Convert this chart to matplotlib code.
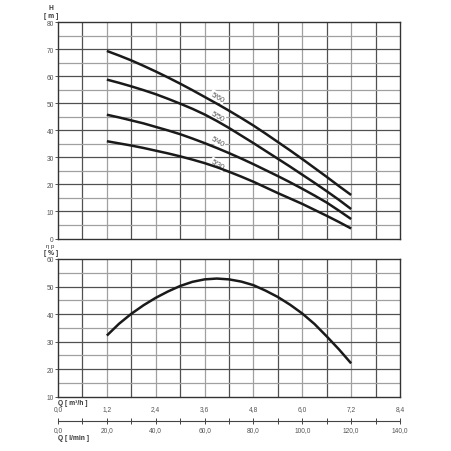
import numpy as np
import matplotlib
matplotlib.use('Agg')
import matplotlib.pyplot as plt
from matplotlib.ticker import FixedLocator, FuncFormatter

plt.rcParams['font.family'] = ['Liberation Sans', 'DejaVu Sans']

# flow points in m3/h
q = [1.2, 1.5, 1.8, 2.1, 2.4, 2.7, 3.0, 3.3, 3.6, 3.9, 4.2,
     4.5, 4.8, 5.1, 5.4, 5.7, 6.0, 6.3, 6.6, 6.9, 7.2]
h_560 = [69.4, 67.7, 65.9, 63.9, 61.8, 59.6, 57.3, 54.9, 52.4, 49.9, 47.3,
         44.6, 41.8, 38.8, 35.7, 32.6, 29.4, 26.1, 22.8, 19.4, 16.1]
h_550 = [58.8, 57.6, 56.3, 54.9, 53.4, 51.7, 49.9, 48.0, 45.9, 43.5, 40.9,
         38.1, 35.3, 32.4, 29.5, 26.6, 23.6, 20.6, 17.5, 14.3, 10.9]
h_540 = [45.8, 44.8, 43.7, 42.6, 41.3, 40.0, 38.6, 37.0, 35.3, 33.5, 31.6,
         29.6, 27.5, 25.3, 23.1, 20.8, 18.4, 15.9, 13.3, 10.3, 7.2]
h_530 = [36.0, 35.2, 34.4, 33.5, 32.5, 31.5, 30.4, 29.2, 27.9, 26.4, 24.7,
         22.9, 21.0, 18.9, 16.8, 14.8, 12.8, 10.6, 8.4, 6.1, 3.7]
curve_names = ['5/60', '5/50', '5/40', '5/30']
label_h = [52.4, 45.3, 36.0, 27.4]

eff = [32.2, 36.5, 40.1, 43.2, 45.9, 48.2, 50.2, 51.7, 52.6, 52.9, 52.6,
       51.8, 50.5, 48.5, 46.2, 43.4, 40.2, 36.4, 31.9, 27.2, 22.1]

fig = plt.figure(figsize=(4.52, 4.52), dpi=100)
L, W = 58 / 452, 342 / 452
ax1 = fig.add_axes([L, 1 - 239.5 / 452, W, 216.2 / 452])
ax2 = fig.add_axes([L, 1 - 397.7 / 452, W, 137.7 / 452])

dark = '#505050'
light = '#a0a0a0'
txt = '#555555'
fs = 4.8


def grid_style(ax, ymin, ymax):
    ax.set_xlim(0, 8.4)
    ax.set_ylim(ymin, ymax)
    for i in range(1, 14):
        ax.axvline(i * 0.6, color=dark if i % 2 else light, lw=0.9, zorder=1)
    for v in np.arange(ymin + 5, ymax, 5):
        ax.axhline(v, color=dark if v % 10 == 0 else light, lw=0.9, zorder=1)
    ax.set_xticks([])
    ax.set_yticks(np.arange(ymin, ymax + 1, 10))
    ax.tick_params(axis='y', length=2.5, width=0.7, color=txt, labelsize=fs,
                   labelcolor=txt, pad=0.5)
    for s in ax.spines.values():
        s.set_color('#333333')
        s.set_linewidth(1.0)


grid_style(ax1, 0, 80)
grid_style(ax2, 10, 60)

for h, name, lh in zip([h_560, h_550, h_540, h_530], curve_names, label_h):
    ax1.plot(q, h, color='#1a1a1a', lw=1.8, zorder=3, solid_capstyle='butt')
    ax1.text(3.92, lh, name, rotation=-30, fontsize=fs + 0.4, color=txt,
             ha='center', va='center', zorder=2,
             bbox=dict(facecolor='white', edgecolor='none', pad=0.8))

ax2.plot(q, eff, color='#1a1a1a', lw=1.8, zorder=3, solid_capstyle='butt')

fig.text(51 / 452, 1 - 9 / 452, 'H', fontsize=fs, fontweight='bold',
         color='#333333', ha='center', va='center')
fig.text(51 / 452, 1 - 16.5 / 452, '[ m ]', fontsize=fs, fontweight='bold',
         color='#333333', ha='center', va='center')
fig.text(50 / 452, 1 - 246.8 / 452, 'η p', fontsize=4.3,
         color='#333333', ha='center', va='center')
fig.text(51 / 452, 1 - 253.8 / 452, '[ % ]', fontsize=fs, fontweight='bold',
         color='#333333', ha='center', va='center')

# flow scale below the charts
ax3 = fig.add_axes([L, 1 - 421.7 / 452, W, 0.0001])
ax3.set_xlim(0, 8.4)
ax3.set_yticks([])
for s in ['top', 'left', 'right']:
    ax3.spines[s].set_visible(False)
ax3.spines['bottom'].set_color('#444444')
ax3.spines['bottom'].set_linewidth(0.8)
m3h_ticks = np.arange(0, 8.41, 0.6)
ax3.xaxis.set_major_locator(FixedLocator(m3h_ticks))
ax3.xaxis.set_major_formatter(FuncFormatter(
    lambda v, p: ('%.1f' % (v / 0.06)).replace('.', ',') if round(v / 0.6) % 2 == 0 else ''))
ax3.tick_params(axis='x', direction='inout', length=5, width=0.7, color='#444444',
                labelsize=fs, labelcolor=txt, pad=1.5)

sec = ax3.secondary_xaxis('top')
sec.spines['top'].set_visible(False)
sec.xaxis.set_major_locator(FixedLocator(np.arange(0, 8.41, 1.2)))
sec.xaxis.set_major_formatter(FuncFormatter(lambda v, p: ('%.1f' % v).replace('.', ',')))
sec.tick_params(axis='x', length=0, labelsize=fs, labelcolor=txt, pad=6)

fig.text(L, 1 - 404 / 452, 'Q [ m³/h ]', fontsize=fs, fontweight='bold',
         color='#333333', ha='left', va='center')
fig.text(L, 1 - 439 / 452, 'Q [ l/min ]', fontsize=fs, fontweight='bold',
         color='#333333', ha='left', va='center')

fig.savefig('out.png', dpi=100, facecolor='white')
